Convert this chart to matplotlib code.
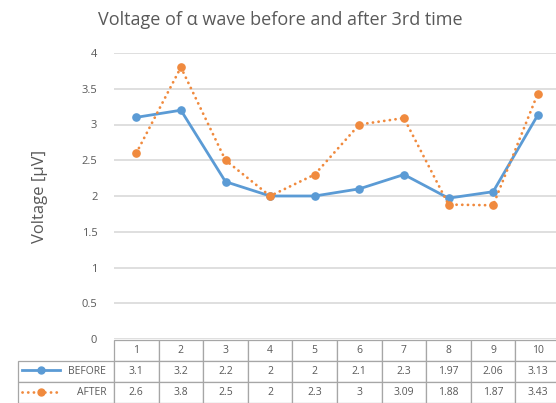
import matplotlib
matplotlib.use("Agg")
import matplotlib.pyplot as plt
from matplotlib.lines import Line2D

plt.rcParams["font.family"] = ["Open Sans", "DejaVu Sans"]

trials = ["1", "2", "3", "4", "5", "6", "7", "8", "9", "10"]
before = [3.1, 3.2, 2.2, 2, 2, 2.1, 2.3, 1.97, 2.06, 3.13]
after = [2.6, 3.8, 2.5, 2, 2.3, 3, 3.09, 1.88, 1.87, 3.43]
before_txt = ["3.1", "3.2", "2.2", "2", "2", "2.1", "2.3", "1.97", "2.06", "3.13"]
after_txt = ["2.6", "3.8", "2.5", "2", "2.3", "3", "3.09", "1.88", "1.87", "3.43"]
yticks = [0, 0.5, 1, 1.5, 2, 2.5, 3, 3.5, 4]

BLUE = "#5b9bd5"
ORANGE = "#f08a3e"
TEXT = "#595959"
GRID = "#d9d9d9"
EDGE = "#a6a6a6"
DOTS = (0, (0.05, 2.0))

W, H = 556, 403
fig = plt.figure(figsize=(W / 100, H / 100), dpi=100)
fig.patch.set_facecolor("white")

# plot area in pixels: x 114..556, y 53..339
ax = fig.add_axes([114 / W, 1 - 339 / H, (556 - 114) / W, (339 - 53) / H])
x = list(range(1, len(trials) + 1))

ax.plot(x, before, color=BLUE, lw=2.0, marker="o", ms=5.2, zorder=3,
        solid_capstyle="round")
ax.plot(x, after, color=ORANGE, lw=2.0, ls=DOTS, marker="o", ms=5.2,
        zorder=3, dash_capstyle="round")

ax.set_xlim(0.5, 10.41)
ax.set_ylim(0, 4)
ax.set_yticks(yticks)
ax.set_yticklabels([f"{t:g}" for t in yticks], fontsize=8, color=TEXT)
ax.tick_params(axis="y", length=0, pad=12)
ax.set_xticks([])
ax.grid(axis="y", color=GRID, lw=1.2)
ax.set_axisbelow(True)
for s in ax.spines.values():
    s.set_visible(False)

ax.set_ylabel("Voltage [\u03bcV]", fontsize=12, color=TEXT, labelpad=24)
fig.text(280 / W, 1 - 20 / H, "Voltage of \u03b1 wave before and after 3rd time",
         ha="center", va="center", fontsize=13, color=TEXT)

# data table under the chart
cell_text = [["BEFORE"] + before_txt, ["AFTER"] + after_txt]
col_labels = [""] + trials
label_w = 96 / 442
col_w = 44.6 / 442
tbl = ax.table(cellText=cell_text, colLabels=col_labels, cellLoc="center",
               colWidths=[label_w] + [col_w] * len(trials),
               bbox=[-96 / 442, -64 / 286, label_w + col_w * len(trials), 63 / 286])
tbl.auto_set_font_size(False)
tbl.set_fontsize(7.5)
for (r, c), cell in tbl.get_celld().items():
    cell.set_edgecolor(EDGE)
    cell.set_linewidth(0.9)
    cell.get_text().set_color(TEXT)
    if r == 0 and c == 0:
        cell.visible_edges = ""
    if r > 0 and c == 0:
        cell._loc = "right"
        cell.PAD = 0.08
        cell.get_text().set_ha("right")

# legend keys inside the label cells
trans = fig.transFigure
ax.add_artist(Line2D([22 / W, 60 / W], [1 - 370 / H] * 2, transform=trans,
                     color=BLUE, lw=2, clip_on=False))
ax.add_artist(Line2D([41 / W], [1 - 370 / H], transform=trans, color=BLUE,
                     marker="o", ms=5, clip_on=False))
ax.add_artist(Line2D([22 / W, 60 / W], [1 - 392 / H] * 2, transform=trans,
                     color=ORANGE, lw=2, ls=DOTS, clip_on=False,
                     dash_capstyle="round"))
ax.add_artist(Line2D([41 / W], [1 - 392 / H], transform=trans, color=ORANGE,
                     marker="o", ms=5, clip_on=False))

fig.savefig("out.png", dpi=100)
